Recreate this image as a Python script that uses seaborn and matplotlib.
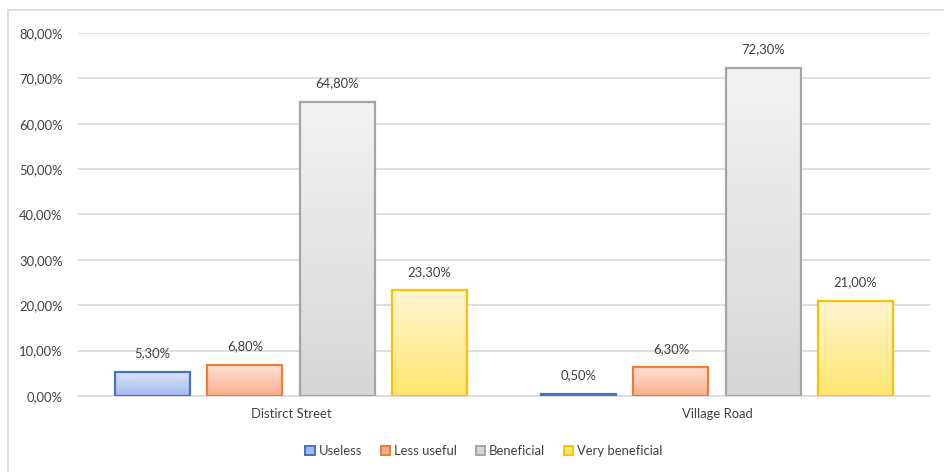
import numpy as np
import pandas as pd
import matplotlib
matplotlib.use("Agg")
import matplotlib.pyplot as plt
from matplotlib.patches import Patch
from matplotlib.lines import Line2D
from matplotlib.colors import LinearSegmentedColormap
import seaborn as sns

# Survey responses per road type (percent)
roads = ["Distirct Street", "Village Road"]
ratings = ["Useless", "Less useful", "Beneficial", "Very beneficial"]
useless = [5.3, 0.5]
less_useful = [6.8, 6.3]
beneficial = [64.8, 72.3]
very_beneficial = [23.3, 21.0]
y_ticks = [0, 10, 20, 30, 40, 50, 60, 70, 80]

# Edge colour and gradient (top -> bottom) for each rating
edge_colors = ["#4472C4", "#ED7D31", "#A5A5A5", "#FFC000"]
grad_top = ["#DDE5FA", "#FFE2D6", "#F3F3F3", "#FFF6D2"]
grad_bottom = ["#A3B9F2", "#F9AE8C", "#D6D6D6", "#FFE66E"]

df = pd.DataFrame({
    "road": np.repeat(roads, len(ratings)),
    "rating": ratings * len(roads),
    "value": [v for i in range(len(roads))
              for v in (useless[i], less_useful[i], beneficial[i], very_beneficial[i])],
})

sns.set_theme(style="white")
plt.rcParams["font.family"] = ["Lato", "DejaVu Sans"]
text_color = "#404040"
fs = 9.4

fig = plt.figure(figsize=(9.44, 4.72), dpi=100)
ax = fig.add_axes([78 / 944, 1 - 396 / 472, (930 - 78) / 944, (396 - 33) / 472])

sns.barplot(data=df, x="road", y="value", hue="rating", hue_order=ratings,
            order=roads, palette=edge_colors, width=0.865, gap=0.185,
            ax=ax, legend=False, zorder=2)

ax.set_xlim(-0.5, 1.5)
ax.set_ylim(0, 80)

# Replace flat fills with vertical gradients, keep coloured outlines
for k, container in enumerate(ax.containers):
    cmap = LinearSegmentedColormap.from_list(f"g{k}", [grad_top[k], grad_bottom[k]])
    for bar in container:
        x0, w, h = bar.get_x(), bar.get_width(), bar.get_height()
        grad = np.linspace(0, 1, 256).reshape(-1, 1)
        ax.imshow(grad, cmap=cmap, extent=(x0, x0 + w, 0, h), origin="upper",
                  aspect="auto", zorder=2, interpolation="bilinear")
        bar.set_facecolor("none")
        bar.set_edgecolor(edge_colors[k])
        bar.set_linewidth(1.6)
        bar.set_zorder(3)
    labels = [f"{v:.2f}%".replace(".", ",") for v in container.datavalues]
    ax.bar_label(container, labels=labels, padding=9, fontsize=fs, color=text_color)

ax.set_xlim(-0.5, 1.5)
ax.set_ylim(0, 80)
ax.set_yticks(y_ticks)
ax.set_yticklabels([f"{t:.2f}%".replace(".", ",") for t in y_ticks])
ax.yaxis.grid(True, color="#D9D9D9", linewidth=1.2, zorder=0)
ax.set_axisbelow(True)
ax.tick_params(axis="y", length=0, pad=11, labelsize=fs, labelcolor=text_color)
ax.tick_params(axis="x", length=0, pad=9, labelsize=fs, labelcolor=text_color)
ax.set_xlabel("")
ax.set_ylabel("")
for side in ["left", "right", "top"]:
    ax.spines[side].set_visible(False)
ax.spines["bottom"].set_color("#D9D9D9")
ax.spines["bottom"].set_linewidth(1.2)

handles = [Patch(facecolor=grad_bottom[k], edgecolor=edge_colors[k], linewidth=1.4,
                 label=ratings[k]) for k in range(len(ratings))]
fig.legend(handles=handles, loc="center", bbox_to_anchor=(484 / 944, 1 - 451 / 472),
           ncol=4, frameon=False, fontsize=fs, handlelength=0.75, handleheight=0.75,
           handletextpad=0.3, columnspacing=1.4, labelcolor=text_color)

# Chart area frame (left and top edges)
fig.add_artist(Line2D([7.5 / 944, 7.5 / 944], [0, 1 - 9.5 / 472],
                      transform=fig.transFigure, color="#D9D9D9", linewidth=1.2))
fig.add_artist(Line2D([7.5 / 944, 1], [1 - 9.5 / 472, 1 - 9.5 / 472],
                      transform=fig.transFigure, color="#D9D9D9", linewidth=1.2))

fig.savefig("out.png", dpi=100)
